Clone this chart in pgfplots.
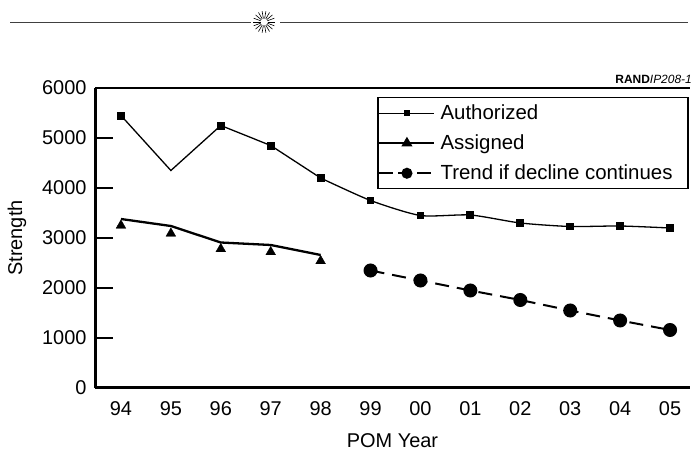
\documentclass[border=0pt]{standalone}
\usepackage{pgfplots}
\pgfplotsset{compat=1.18}
\usepackage{fontspec}
\setmainfont{Liberation Sans}
\begin{document}
\begin{tikzpicture}[x=1bp,y=1bp]
\useasboundingbox (0,0) rectangle (694,456);
% top decoration
\draw[line width=0.9bp, black!75] (10,434) -- (251,434);
\draw[line width=0.9bp, black!75] (280,434) -- (688,434);
\foreach \a in {0,20,...,340} \draw[line width=0.6bp] (264,434)+(\a:3.5) -- +(\a:11);
\node[anchor=base east, inner sep=0pt, font=\fontsize{12}{14}\selectfont] at (692,372) {\textbf{RAND}\textit{IP208-1}};
\begin{axis}[
  at={(95bp,68bp)}, anchor=south west,
  scale only axis, width=595bp, height=300bp,
  xmin=-0.52, xmax=11.4, ymin=0, ymax=6000,
  axis x line*=bottom, axis y line*=left,
  x axis line style={line width=3bp},
  y axis line style={line width=3bp},
  xtick={0,...,11},
  xticklabels={94,95,96,97,98,99,00,01,02,03,04,05},
  xtick style={draw=none},
  ytick={0,1000,...,6000},
  ytick style={draw=none},
  scaled y ticks=false,
  /pgf/number format/1000 sep={},
  /pgf/number format/assume math mode=true,
  tick label style={font=\fontsize{20}{24}\selectfont},
  yticklabel style={anchor=east, xshift=-5bp},
  xticklabel style={anchor=base, yshift=-28bp},
  xlabel={POM Year}, ylabel={Strength},
  label style={font=\fontsize{20}{24}\selectfont},
  xlabel style={at={(axis description cs:0.5,-0.177)}, anchor=center},
  ylabel style={at={(axis description cs:-0.131,0.5)}, anchor=center, rotate=0},
  clip=false,
  legend image code/.code={\draw[mark repeat=2,mark phase=2,#1] plot coordinates {(0bp,0bp) (27.5bp,0bp) (55bp,0bp)};},
  legend style={at={(rel axis cs:0.474,0.97)}, anchor=north west, draw=black, line width=1.5bp,
    font=\fontsize{20.5}{24}\selectfont, inner sep=0.5bp, row sep=0pt,
    nodes={inner xsep=5bp, inner ysep=4bp, text height=17bp, text depth=5bp}},
  legend cell align=left,
]
% Authorized
\addplot[black, line width=1.3bp, forget plot]
  coordinates {(0,5450)(1,4350)(2,5250)(3,4850)(4,4200)};
\addplot[black, only marks, mark=square*, mark size=3.6bp, forget plot]
  coordinates {(0,5450)(2,5250)(3,4850)(4,4200)};
\addplot[black, line width=1.3bp, mark=square*, mark size=3.3bp, smooth, tension=0.4, forget plot]
  coordinates {(4,4200)(5,3750)(6,3450)(7,3460)(8,3300)(9,3230)(10,3240)(11,3200)};
% Assigned line
\addplot[black, line width=2.3bp, forget plot]
  coordinates {(0,3380)(1,3240)(2,2910)(3,2860)(4,2660)};
% Assigned markers
\addplot[black, only marks, mark=triangle*, mark size=5.6bp, forget plot]
  coordinates {(0,3250)(1,3090)(2,2780)(3,2720)(4,2540)};
% Trend
\addplot[black, line width=2bp, dash pattern=on 14bp off 8bp, mark=*, mark size=6bp, mark options={solid}, forget plot]
  coordinates {(5,2350)(6,2150)(7,1950)(8,1760)(9,1550)(10,1350)(11,1160)};
\draw[line width=1.2bp] (rel axis cs:0,1) -- (rel axis cs:1,1);
\addlegendimage{black, line width=1bp, mark=square*, mark size=2.5bp}
\addlegendentry{Authorized}
\addlegendimage{black, line width=2.3bp, mark=triangle*, mark size=4.2bp}
\addlegendentry{Assigned}
\addlegendimage{black, line width=2bp, dash pattern=on 14bp off 5bp, mark=*, mark size=4.5bp, mark options={solid}}
\addlegendentry{Trend if decline continues\kern10bp}
\end{axis}
% inward y ticks
\foreach \k in {1,...,5} \draw[line width=1.3bp, black] (96,{68+50*\k}) -- (113,{68+50*\k});
\end{tikzpicture}
\end{document}
